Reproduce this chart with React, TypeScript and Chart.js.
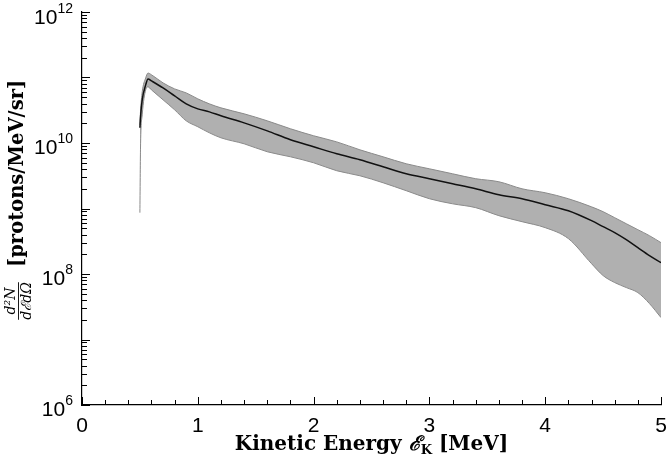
import { useEffect, useRef } from "react";
import { Chart, registerables } from "chart.js";

Chart.register(...registerables);

// kinetic energy [MeV]
const energy = [
  0.5, 0.505, 0.52, 0.55, 0.57, 0.6, 0.7, 0.8, 0.9, 1.0, 1.1, 1.2, 1.4, 1.6,
  1.8, 2.0, 2.2, 2.4, 2.6, 2.8, 3.0, 3.2, 3.4, 3.6, 3.8, 4.0, 4.2, 4.4, 4.5,
  4.6, 4.7, 4.8, 4.9, 5.0,
];

// mean spectrum [protons/MeV/sr]
const meanSpectrum = [
  1.71e10, 2.42e10, 4.56e10, 7.71e10, 9.52e10, 8.88e10, 6.94e10, 5.24e10,
  3.96e10, 3.32e10, 2.99e10, 2.6e10, 2.03e10, 1.53e10, 1.12e10, 8.75e9,
  6.84e9, 5.55e9, 4.34e9, 3.39e9, 2.85e9, 2.39e9, 2.0e9, 1.62e9, 1.41e9,
  1.14e9, 9.25e8, 6.52e8, 5.28e8, 4.28e8, 3.34e8, 2.52e8, 1.91e8, 1.49e8,
];

// upper edge of the spread
const upperSpectrum = [
  1.89e10, 2.99e10, 6.03e10, 9.86e10, 1.17e11, 1.1e11, 8.27e10, 6.7e10,
  5.82e10, 4.72e10, 3.96e10, 3.44e10, 2.79e10, 2.18e10, 1.65e10, 1.29e10,
  1.04e10, 7.87e9, 6.16e9, 4.82e9, 4.04e9, 3.39e9, 2.85e9, 2.56e9, 2.0e9,
  1.74e9, 1.41e9, 1.06e9, 8.94e8, 7.24e8, 5.86e8, 4.75e8, 3.85e8, 3.01e8,
];

// lower edge of the spread
const lowerSpectrum = [
  8.63e8, 7.87e9, 2.69e10, 6.47e10, 7.19e10, 6.47e10, 4.56e10, 3.21e10,
  2.18e10, 1.77e10, 1.43e10, 1.2e10, 9.72e9, 7.35e9, 6.16e9, 4.99e9, 3.77e9,
  3.16e9, 2.47e9, 1.87e9, 1.41e9, 1.18e9, 1.03e9, 7.77e8, 6.29e8, 5.1e8,
  3.47e8, 1.44e8, 9.46e7, 7.4e7, 6.21e7, 5.2e7, 3.54e7, 2.16e7,
];

// y tick labels: base and exponent
const yTickValues = [1e6, 1e8, 1e10, 1e12];
const yTickExponents = ["6", "8", "10", "12"];
const yMinorMantissas = [2, 3, 4, 5, 6, 7, 8, 9];

const xTitle = ["Kinetic Energy ", "\u2130", "K", " [MeV]"];
const yTitleNum = "d\u00b2N";
const yTitleDen = "d\u2130d\u03a9";
const yTitleUnit = "[protons/MeV/sr]";

const SERIF = "'DejaVu Serif', serif";
const SANS = "'Liberation Sans', Arial, sans-serif";

const axesPlugin = {
  id: "axesDecor",
  afterDraw(chart: any) {
    const { ctx, chartArea } = chart;
    const xs = chart.scales.x;
    const ys = chart.scales.y;
    ctx.save();
    ctx.strokeStyle = "#000";
    ctx.lineWidth = 1;

    const tick = (x1: number, y1: number, x2: number, y2: number) => {
      ctx.beginPath();
      ctx.moveTo(x1, y1);
      ctx.lineTo(x2, y2);
      ctx.stroke();
    };

    // inward ticks on x
    xs.ticks.forEach((t: any) => {
      const px = Math.round(xs.getPixelForValue(t.value)) + 0.5;
      const major = Math.abs(t.value - Math.round(t.value)) < 1e-6;
      tick(px, chartArea.bottom, px, chartArea.bottom - (major ? 8 : 5));
    });

    // inward ticks on y (every decade, with minor mantissas)
    const minExp = Math.round(Math.log10(ys.min));
    const maxExp = Math.round(Math.log10(ys.max));
    for (let e = minExp; e <= maxExp; e++) {
      const py = Math.round(ys.getPixelForValue(Math.pow(10, e))) + 0.5;
      tick(chartArea.left, py, chartArea.left + 8, py);
      if (e === maxExp) break;
      yMinorMantissas.forEach((m) => {
        const my = Math.round(ys.getPixelForValue(m * Math.pow(10, e))) + 0.5;
        tick(chartArea.left, my, chartArea.left + 5, my);
      });
    }

    // y tick labels with superscript exponents
    ctx.fillStyle = "#000";
    ctx.textBaseline = "middle";
    yTickValues.forEach((v, i) => {
      const py = ys.getPixelForValue(v);
      const right = chartArea.left - 9;
      ctx.font = "14px " + SANS;
      const ew = ctx.measureText(yTickExponents[i]).width;
      const digitsY = Math.max(py + 5, 18);
      ctx.textAlign = "right";
      ctx.fillText(yTickExponents[i], right, digitsY - 9);
      ctx.font = "21px " + SANS;
      ctx.fillText("10", right - ew, digitsY);
    });

    // x title with subscript
    ctx.textBaseline = "alphabetic";
    const big = "bold 20px " + SERIF;
    const sub = "bold 13px " + SERIF;
    const script = "bold italic 20px " + SERIF;
    const fonts = [big, script, sub, big];
    let total = 0;
    const widths = xTitle.map((s, i) => {
      ctx.font = fonts[i];
      const w = ctx.measureText(s).width;
      total += w;
      return w;
    });
    let cx = (chartArea.left + chartArea.right) / 2 - total / 2;
    const base = 450;
    xTitle.forEach((s, i) => {
      ctx.font = fonts[i];
      ctx.textAlign = "left";
      ctx.fillText(s, cx, i === 2 ? base + 4 : base);
      cx += widths[i];
    });

    // rotated y title
    ctx.translate(18, 301);
    ctx.rotate(-Math.PI / 2);
    ctx.textAlign = "center";
    ctx.font = "italic 14px " + SERIF;
    ctx.textBaseline = "alphabetic";
    ctx.fillText(yTitleNum, 0, -3);
    ctx.textBaseline = "top";
    ctx.fillText(yTitleDen, 0, 2);
    const dw = ctx.measureText(yTitleDen).width;
    ctx.beginPath();
    ctx.lineWidth = 0.9;
    ctx.moveTo(-dw / 2, 0.5);
    ctx.lineTo(dw / 2, 0.5);
    ctx.stroke();
    ctx.font = "bold 19.5px " + SERIF;
    ctx.textAlign = "left";
    ctx.textBaseline = "middle";
    ctx.fillText(yTitleUnit, 34, -0.5);
    ctx.restore();
  },
};

export default function App() {
  const canvasRef = useRef<HTMLCanvasElement>(null);

  useEffect(() => {
    if (!canvasRef.current) return;
    const chart = new Chart(canvasRef.current, {
      type: "line",
      data: {
        labels: energy,
        datasets: [
          {
            label: "upper",
            data: energy.map((e, i) => ({ x: e, y: upperSpectrum[i] })),
            borderColor: "#8a8a8a",
            borderWidth: 1,
            backgroundColor: "#b0b0b0",
            fill: 2,
            pointRadius: 0,
            cubicInterpolationMode: "monotone",
            order: 2,
          },
          {
            label: "mean",
            data: energy.map((e, i) => ({ x: e, y: meanSpectrum[i] })),
            borderColor: "#111111",
            borderWidth: 1.5,
            fill: false,
            pointRadius: 0,
            cubicInterpolationMode: "monotone",
            order: 0,
          },
          {
            label: "lower",
            data: energy.map((e, i) => ({ x: e, y: lowerSpectrum[i] })),
            borderColor: "#8a8a8a",
            borderWidth: 1,
            fill: false,
            pointRadius: 0,
            cubicInterpolationMode: "monotone",
            order: 1,
          },
        ],
      },
      options: {
        animation: false,
        responsive: false,
        maintainAspectRatio: false,
        layout: { padding: { top: 12, right: 8, left: 0, bottom: 0 } },
        plugins: {
          legend: { display: false },
          tooltip: { enabled: false },
        },
        scales: {
          x: {
            type: "linear",
            min: 0,
            max: 5,
            grid: { display: false, drawTicks: false },
            border: { display: true, color: "#000", width: 1.2 },
            ticks: {
              stepSize: 0.2,
              autoSkip: false,
              maxRotation: 0,
              padding: 9,
              color: "#000",
              font: { family: SANS, size: 21 },
              callback: (v: any) =>
                Math.abs(v - Math.round(v)) < 1e-6 ? String(Math.round(v)) : "",
            },
            afterFit: (s: any) => {
              s.height = 59;
              s.paddingRight = 0;
              s.paddingLeft = 0;
            },
          },
          y: {
            type: "logarithmic",
            min: 1e6,
            max: 1e12,
            grid: { display: false, drawTicks: false },
            border: { display: true, color: "#000", width: 1.2 },
            ticks: {
              display: false,
            },
            afterFit: (s: any) => {
              s.width = 82;
            },
          },
        },
      },
      plugins: [axesPlugin],
    });
    return () => chart.destroy();
  }, []);

  return (
    <div
      style={{
        position: "fixed",
        left: 0,
        top: 0,
        width: 669,
        height: 464,
        background: "#fff",
      }}
    >
      <canvas ref={canvasRef} width={669} height={464} />
    </div>
  );
}
